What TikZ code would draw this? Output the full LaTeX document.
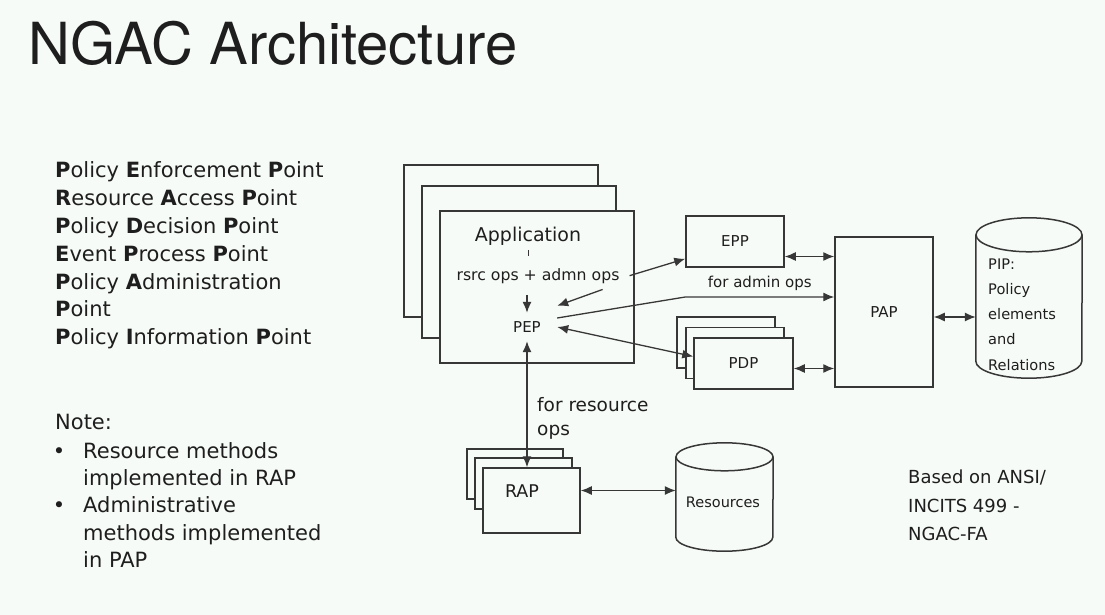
\documentclass[tikz,border=0pt]{standalone}
\usepackage{fontspec}
\setmainfont{DejaVu Sans}
\newfontfamily\headfont{TeX Gyre Heros}
\usetikzlibrary{arrows.meta}
\definecolor{slidebg}{RGB}{247,251,247}
\definecolor{ink}{RGB}{30,30,30}
\definecolor{edge}{RGB}{55,55,55}

\begin{document}
\begin{tikzpicture}[x=1pt,y=-1pt,
    box/.style={draw=edge, line width=1.5pt, fill=slidebg, inner sep=0pt},
    rim/.style={draw=edge, line width=1.5pt},
    link/.style={draw=edge, line width=1.3pt, -{Latex[length=11pt,width=9pt]}},
    both/.style={link, {Latex[length=11pt,width=9pt]}-{Latex[length=11pt,width=9pt]}},
    txt/.style={inner sep=0pt, text=ink},
    small/.style={txt, font=\fontsize{15}{18}\selectfont},
  ]
  \fill[slidebg] (0,0) rectangle (1105,615);

  % title and left column
  \node[txt, anchor=base west, font=\headfont\fontsize{58}{60}\selectfont] (title) at (28,65) {NGAC Architecture};
  \foreach \term/\yy [count=\i] in {
      {\textbf{P}olicy \textbf{E}nforcement \textbf{P}oint}/177,
      {\textbf{R}esource \textbf{A}ccess \textbf{P}oint}/205,
      {\textbf{P}olicy \textbf{D}ecision \textbf{P}oint}/233,
      {\textbf{E}vent \textbf{P}rocess \textbf{P}oint}/261,
      {\textbf{P}olicy \textbf{A}dministration}/289,
      {\textbf{P}oint}/316,
      {\textbf{P}olicy \textbf{I}nformation \textbf{P}oint}/344}
    \node[txt, anchor=base west, font=\fontsize{21}{26}\selectfont] (term\i) at (55,\yy) {\term};

  \node[txt, anchor=base west, font=\fontsize{21}{26}\selectfont] (note) at (55,429) {Note:};
  \foreach \yy in {458,512}
    \node[txt, anchor=base, font=\fontsize{21}{26}\selectfont] (dot\yy) at (59,\yy) {•};
  \foreach \item/\yy [count=\i] in {Resource methods/458, implemented in RAP/485,
      Administrative/512, methods implemented/540, in PAP/567}
    \node[txt, anchor=base west, font=\fontsize{21}{26}\selectfont] (item\i) at (83,\yy) {\item};

  % application stack
  \node[box, minimum width=194pt, minimum height=152pt] (app2) at (501,241) {};
  \node[box, minimum width=194pt, minimum height=152pt] (app1) at (519,262) {};
  \node[box, minimum width=194pt, minimum height=152pt] (app) at (537,287) {};
  \node[txt, anchor=base, font=\fontsize{19}{22}\selectfont] (apptxt) at (528,241) {Application};
  \node[txt, anchor=base, font=\fontsize{15.7}{18}\selectfont] (ops) at (538,280) {rsrc ops + admn ops};
  \node[small, minimum width=60pt, minimum height=28pt] (pep) at (527,327) {PEP};
  \draw[edge, line width=1pt] ([yshift=-9pt]apptxt.base) -- ([yshift=-15pt]apptxt.base);

  % EPP, PDP stack, PAP
  \node[box, small, draw=edge, fill=slidebg, minimum width=98pt, minimum height=51pt] (epp) at (735,241.5) {EPP};
  \node[box, minimum width=98pt, minimum height=51pt] (pdp2) at (726,342.5) {};
  \node[box, minimum width=98pt, minimum height=51pt] (pdp1) at (735,353) {};
  \node[box, small, draw=edge, fill=slidebg, minimum width=99pt, minimum height=51pt] (pdp) at (743.5,363.5) {PDP};
  \node[box, small, draw=edge, fill=slidebg, minimum width=98pt, minimum height=150pt] (pap) at (884,312) {PAP};

  % PIP store
  \node[inner sep=0pt, minimum width=106pt, minimum height=126pt] (pip) at (1029,298) {};
  \draw[rim] (pip.north west) -- (pip.south west)
    arc[start angle=180, end angle=360, x radius=53pt, y radius=17pt] -- (pip.north east);
  \draw[rim] (pip.north) ellipse [x radius=53pt, y radius=17pt];
  \node[txt, anchor=north west, align=left, font=\fontsize{14.6}{25.2}\selectfont] (piptxt) at (988,258.5)
    {PIP:\\Policy\\elements\\and\\Relations};

  % RAP stack and resources
  \node[box, minimum width=96pt, minimum height=50pt] (rap2) at (515,474) {};
  \node[box, minimum width=97pt, minimum height=51pt] (rap1) at (523.5,483.5) {};
  \node[box, minimum width=97pt, minimum height=65pt] (rap) at (531.5,500.5) {};
  \node[txt, anchor=base, font=\fontsize{17.5}{20}\selectfont] (raptxt) at (522,497) {RAP};
  \node[inner sep=0pt, minimum width=97pt, minimum height=80pt] (res) at (724.5,497) {};
  \draw[rim] (res.north west) -- (res.south west)
    arc[start angle=180, end angle=360, x radius=48.5pt, y radius=14pt] -- (res.north east);
  \draw[rim] (res.north) ellipse [x radius=48.5pt, y radius=14pt];
  \node[txt, anchor=base, font=\fontsize{14.5}{18}\selectfont] (restxt) at (723,507) {Resources};

  % connectors
  \draw[link] ([yshift=18pt]pep.north) -- (pep.north);
  \draw[link] ([xshift=-17pt,yshift=-6pt]ops.south east) -- ([yshift=7pt]pep.north east);
  \draw[link] ([xshift=10pt]ops.east) -- ([yshift=9pt]epp.south west);
  \draw[link] ([yshift=9pt]pep.east) -- ([yshift=15pt]pap.west -| epp.west)
    -- node[small, above=6pt] (adminops) {for admin ops} ([yshift=15pt]pap.west);
  \draw[both] (pep.east) -- ([yshift=7pt]pdp.west);
  \draw[both] ([yshift=-15pt]epp.east) -- ([yshift=-15pt]epp.east -| pap.west);
  \draw[both] ([yshift=-5pt]pdp.east) -- ([yshift=-5pt]pdp.east -| pap.west);
  \draw[both] ([yshift=-5pt]pap.east) -- ([yshift=-5pt]pap.east -| pip.west);
  \draw[both] (pep.south) -- (pep.south |- rap.north);
  \draw[both] ([yshift=10pt]rap.east) -- ([yshift=10pt]rap.east -| res.west);
  \node[txt, anchor=north west, align=left, font=\fontsize{18.5}{24}\selectfont] (resops) at (537,397)
    {for resource\\ops};

  % source note
  \node[txt, anchor=north west, align=left, font=\fontsize{18}{28.5}\selectfont] (based) at (908,470)
    {Based on ANSI/\\INCITS 499 -\\NGAC-FA};
\end{tikzpicture}
\end{document}
